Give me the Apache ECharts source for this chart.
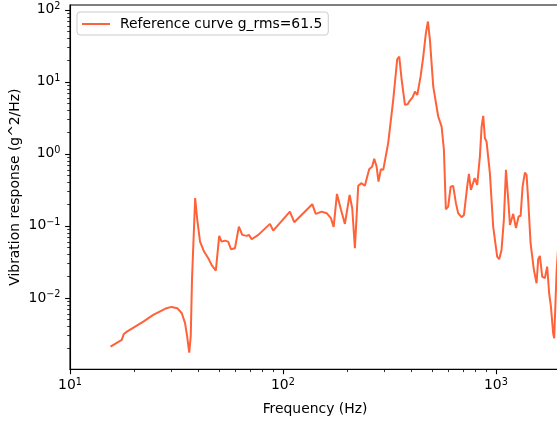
<!DOCTYPE html>
<html>
<head>
<meta charset="utf-8">
<script src="https://cdn.jsdelivr.net/npm/echarts@6/dist/echarts.min.js"></script>
<style>
  html, body { margin: 0; padding: 0; background: #ffffff; }
  #chart { width: 557px; height: 421px; }
</style>
</head>
<body>
<div id="chart"></div>
<script>
// Vibration response spectrum (PSD) on log-log axes
const freqHz = [
  15.5, 17.5, 17.9, 18.5, 22.1, 24.6, 28.4, 30.0, 31.9, 33.5,
  34.7, 35.5, 36.3, 36.9, 37.4, 38.7, 39.6, 40.8, 42.6, 44.6,
  46.2, 48.4, 50.2, 51.5, 53.4, 55.3, 57.0, 59.5, 62.1, 64.4,
  67.6, 69.2, 71.3, 76.6, 86.9, 90.0, 107.8, 113, 137.3, 142.5,
  152, 160.4, 168, 173, 179.3, 187.3, 195.4, 205.6, 211.5, 217.7,
  225.7, 234, 242.5, 254, 262.5, 268.3, 275.3, 281, 288.4, 295.8,
  312, 329.5, 344, 351.7, 360.9, 374, 385, 394.5, 406, 416.6,
  427.5, 443, 456, 469, 479.5, 490, 508, 536, 556, 570,
  582, 597, 613, 630, 649, 665, 690, 708, 718, 733,
  747, 763, 778, 795, 817, 841, 857, 872, 888, 904,
  937, 971, 1014, 1036, 1063, 1090, 1115, 1143, 1164, 1186,
  1206, 1242, 1278, 1306, 1335, 1368, 1393, 1418, 1455, 1508,
  1552, 1580, 1609, 1650, 1698, 1741, 1779, 1813, 1858, 1878,
  1928, 1960
];
const response = [
  0.00211, 0.00261, 0.00316, 0.0034, 0.00469, 0.0058, 0.0072, 0.0075, 0.0072, 0.00613,
  0.00446, 0.0029, 0.00174, 0.00297, 0.0178, 0.243, 0.121, 0.0605, 0.044, 0.0356,
  0.0287, 0.0239, 0.0726, 0.0605, 0.0625, 0.0605, 0.0474, 0.049, 0.0977, 0.075,
  0.0726, 0.075, 0.0653, 0.075, 0.1066, 0.0861, 0.158, 0.1125, 0.2, 0.147,
  0.158, 0.15, 0.128, 0.0966, 0.278, 0.167, 0.1066, 0.27, 0.176, 0.049,
  0.36, 0.392, 0.36, 0.613, 0.667, 0.853, 0.667, 0.412, 0.613, 0.6,
  1.41, 5.62, 20.6, 22.4, 10.7, 4.8, 4.9, 5.5, 6.1, 7.33,
  6.6, 11.9, 22.4, 47.4, 68.8, 38.3, 8.6, 3.3, 2.39, 1.14,
  0.17, 0.185, 0.35, 0.36, 0.207, 0.15, 0.132, 0.142, 0.15, 0.352,
  0.528, 0.316, 0.334, 0.46, 0.37, 0.917, 2.39, 3.37, 1.65, 1.48,
  0.54, 0.0977, 0.0375, 0.0344, 0.0464, 0.121, 0.6, 0.23, 0.103, 0.109,
  0.147, 0.093, 0.135, 0.138, 0.352, 0.55, 0.51, 0.23, 0.0575, 0.0245,
  0.016, 0.0344, 0.0383, 0.0198, 0.0188, 0.0272, 0.0116, 0.0076, 0.0032, 0.00275,
  0.0232, 0.05
];

const seriesName = 'Reference curve g_rms=61.5';
const xAxisTitle = 'Frequency (Hz)';
const yAxisTitle = 'Vibration response (g^2/Hz)';

// Major tick values and their exponent labels
const xMajorTicks = [10, 100, 1000];
const xTickExponents = ['1', '2', '3'];
const yMajorTicks = [0.01, 0.1, 1, 10, 100];
const yTickExponents = ['\u22122', '\u22121', '0', '1', '2'];

const xRange = [10, 2000];
const yRange = [0.00102, 116.7];

// Minor ticks at 2..9 within each decade, limited to the axis range
function minorTicks(lo, hi) {
  const out = [];
  for (let e = Math.floor(Math.log10(lo)); e <= Math.ceil(Math.log10(hi)); e++) {
    for (let m = 2; m <= 9; m++) {
      const v = m * Math.pow(10, e);
      if (v > lo && v < hi) out.push(v);
    }
  }
  return out;
}

const FONT = 'DejaVu Sans';
const FS = 13.9;
const LINE_COLOR = '#ff6138';
const richLabel = {
  b: { fontFamily: FONT, fontSize: FS, color: '#000', lineHeight: 17 },
  s: { fontFamily: FONT, fontSize: 9.7, color: '#000', verticalAlign: 'top', lineHeight: 17 }
};

function labelFor(ticks, exps) {
  return function (val) {
    for (let i = 0; i < ticks.length; i++) {
      if (Math.abs(Math.log10(val) - Math.log10(ticks[i])) < 1e-6) {
        return '{b|10}{s|' + exps[i] + '}';
      }
    }
    return '';
  };
}

const curve = freqHz.map((f, i) => [f, response[i]]);

const chart = echarts.init(document.getElementById('chart'), null, { renderer: 'canvas' });

const axisLineStyle = { show: true, lineStyle: { color: '#000', width: 1.1 } };

chart.setOption({
  animation: false,
  backgroundColor: '#ffffff',
  textStyle: { fontFamily: FONT },
  grid: {
    left: 70, top: 5, right: -3, bottom: 51.7,
    show: true, borderColor: '#000', borderWidth: 1.1, backgroundColor: 'transparent',
    containLabel: false,
    outerBoundsMode: 'none'
  },
  legend: {
    left: 77, top: 12,
    padding: [5, 6, 4, 5],
    itemWidth: 28, itemHeight: 14,
    backgroundColor: 'rgba(255,255,255,0.8)',
    borderColor: '#cccccc', borderWidth: 1, borderRadius: 3,
    textStyle: { fontFamily: FONT, fontSize: FS, color: '#000', padding: [0, 0, 0, 5] },
    data: [{ name: seriesName, icon: 'path://M0,0 L28,0 L28,2 L0,2 Z' }]
  },
  xAxis: [
    {
      type: 'log', logBase: 10, min: xRange[0], max: xRange[1],
      position: 'bottom',
      name: xAxisTitle, nameLocation: 'middle', nameGap: 33, nameMoveOverlap: false,
      nameTextStyle: { fontFamily: FONT, fontSize: FS, color: '#000' },
      axisLine: axisLineStyle,
      axisTick: { show: true, length: 4.9, lineStyle: { color: '#000', width: 1.1 }, customValues: xMajorTicks },
      axisLabel: { show: true, margin: 8, customValues: xMajorTicks, formatter: labelFor(xMajorTicks, xTickExponents), rich: richLabel },
      splitLine: { show: false }, minorTick: { show: false }
    },
    {
      type: 'log', logBase: 10, min: xRange[0], max: xRange[1],
      position: 'bottom', gridIndex: 0,
      axisLine: { show: false },
      axisTick: { show: true, length: 2.8, lineStyle: { color: '#000', width: 0.8 }, customValues: minorTicks(xRange[0], xRange[1]) },
      axisLabel: { show: false }, splitLine: { show: false }
    }
  ],
  yAxis: [
    {
      type: 'log', logBase: 10, min: yRange[0], max: yRange[1],
      position: 'left',
      name: yAxisTitle, nameLocation: 'middle', nameGap: 48, nameRotate: 90, nameMoveOverlap: false,
      nameTextStyle: { fontFamily: FONT, fontSize: FS, color: '#000' },
      axisLine: axisLineStyle,
      axisTick: { show: true, length: 4.9, lineStyle: { color: '#000', width: 1.1 }, customValues: yMajorTicks },
      axisLabel: { show: true, margin: 9.5, customValues: yMajorTicks, formatter: labelFor(yMajorTicks, yTickExponents), rich: richLabel },
      splitLine: { show: false }, minorTick: { show: false }
    },
    {
      type: 'log', logBase: 10, min: yRange[0], max: yRange[1],
      position: 'left', gridIndex: 0,
      axisLine: { show: false },
      axisTick: { show: true, length: 2.8, lineStyle: { color: '#000', width: 0.8 }, customValues: minorTicks(yRange[0], yRange[1]) },
      axisLabel: { show: false }, splitLine: { show: false }
    }
  ],
  series: [
    {
      name: seriesName,
      type: 'line',
      xAxisIndex: 0, yAxisIndex: 0,
      data: curve,
      symbol: 'none',
      smooth: false,
      clip: true,
      lineStyle: { color: LINE_COLOR, width: 2 },
      itemStyle: { color: LINE_COLOR }
    }
  ]
});
</script>
</body>
</html>
